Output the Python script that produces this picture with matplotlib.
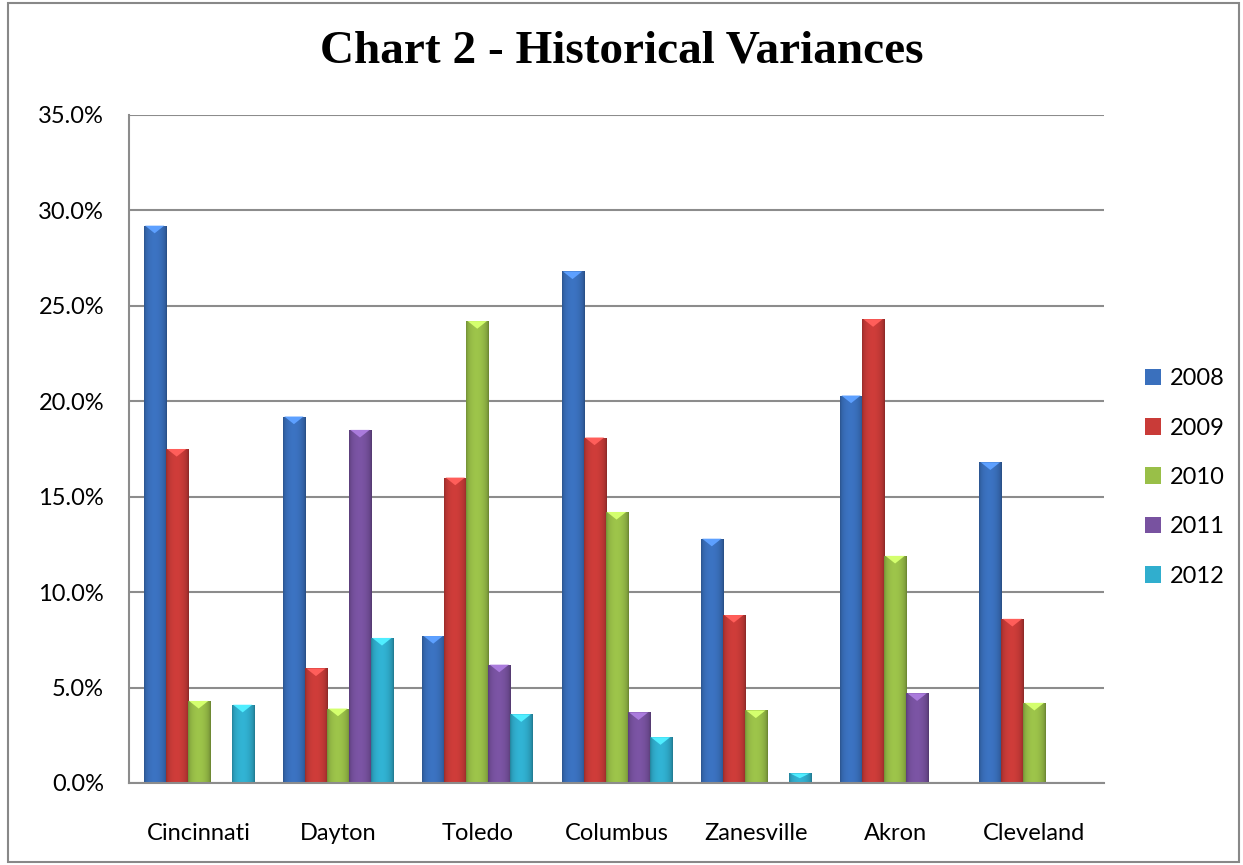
import numpy as np
import matplotlib.pyplot as plt
from matplotlib.colors import to_rgb
from matplotlib.patches import Polygon, Rectangle

villes = ['Cincinnati', 'Dayton', 'Toledo', 'Columbus', 'Zanesville', 'Akron', 'Cleveland']
annees = ['2008', '2009', '2010', '2011', '2012']

# variances en %
v_2008 = [29.2, 19.2, 7.7, 26.8, 12.8, 20.3, 16.8]
v_2009 = [17.5, 6.0, 16.0, 18.1, 8.8, 24.3, 8.6]
v_2010 = [4.3, 3.9, 24.2, 14.2, 3.8, 11.9, 4.2]
v_2011 = [0.0, 18.5, 6.2, 3.7, 0.0, 4.7, 0.0]
v_2012 = [4.1, 7.6, 3.6, 2.4, 0.5, 0.0, 0.0]
series = [v_2008, v_2009, v_2010, v_2011, v_2012]

couleurs = ['#3a70bd', '#c93b38', '#99bf48', '#7852a0', '#30aece']

plt.rcParams['font.family'] = ['Lato', 'DejaVu Sans']

fig = plt.figure(figsize=(12.43, 8.65), dpi=100)
ax = fig.add_axes([0.1038, 0.0948, 0.7844, 0.7723])

x = np.arange(len(villes))
w = 0.158


def degrade(c):
    # bord sombre, centre un peu plus clair
    c = np.array(to_rgb(c))
    t = np.linspace(0, 1, 24)
    f = 0.76 + 0.3 * np.sin(np.pi * t) ** 0.5 - 0.06 * t
    return np.clip(c[None, :] * f[:, None], 0, 1)[None, :, :]


for i, (vals, c) in enumerate(zip(series, couleurs)):
    pos = x + (i - 2) * w
    bars = ax.bar(pos, vals, width=w, color=c, edgecolor='none', zorder=3,
                  label=annees[i])
    g = degrade(c)
    clair = np.clip(np.array(to_rgb(c)) * 1.25 + 0.08, 0, 1)
    for b, v in zip(bars, vals):
        if v <= 0:
            continue
        x0, x1 = b.get_x(), b.get_x() + b.get_width()
        im = ax.imshow(g, extent=[x0, x1, 0, v], aspect='auto',
                       interpolation='bicubic', zorder=3.5)
        im.set_clip_path(b)
        cap = min(0.4, v * 0.5)
        ax.add_patch(Polygon([[x0 + 0.01, v], [x1 - 0.01, v], [(x0 + x1) / 2, v - cap]],
                             closed=True, facecolor=clair, edgecolor='none', zorder=4))

ax.set_xlim(-0.5, len(villes) - 0.5)
ax.set_ylim(0, 35)
ax.set_yticks(np.arange(0, 36, 5))
ax.set_yticklabels(['{:.1f}%'.format(t) for t in np.arange(0, 36, 5)], fontsize=17)
ax.set_xticks(x)
ax.set_xticklabels(villes, fontsize=17)
ax.tick_params(axis='y', length=0, pad=18)
ax.tick_params(axis='x', length=0, pad=29)
ax.grid(axis='y', color='#8c8c8c', linewidth=1.5, zorder=1)
ax.set_axisbelow(True)
for s in ['top', 'right']:
    ax.spines[s].set_visible(False)
for s in ['left', 'bottom']:
    ax.spines[s].set_color('#8c8c8c')
    ax.spines[s].set_linewidth(1.5)
ax.spines['bottom'].set_zorder(5)

fig.text(0.5, 0.94, 'Chart 2 - Historical Variances', ha='center', va='center',
         family='Liberation Serif', weight='bold', fontsize=34)

fig.legend(loc='center left', bbox_to_anchor=(0.904, 0.448), frameon=False,
           fontsize=17, handlelength=0.7, handleheight=0.7, handletextpad=0.35,
           labelspacing=1.2)

fig.patches.append(Rectangle((0.0065, 0.004), 0.99, 0.993, transform=fig.transFigure,
                             fill=False, edgecolor='#888888', linewidth=1.5))

fig.savefig('out.png', dpi=100)
